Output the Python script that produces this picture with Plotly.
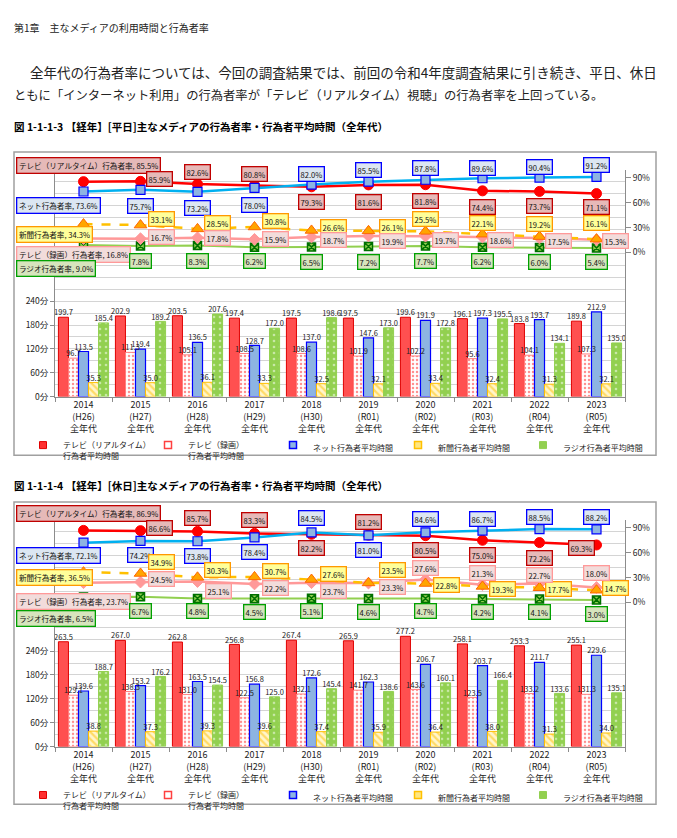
import plotly.graph_objects as go

W, H = 677, 838
FONT = "Noto Sans CJK JP"

# ---------------- data ----------------
years = ["2014", "2015", "2016", "2017", "2018", "2019", "2020", "2021", "2022", "2023"]
eras = ["(H26)", "(H27)", "(H28)", "(H29)", "(H30)", "(R01)", "(R02)", "(R03)", "(R04)", "(R05)"]
age_label = "全年代"

# weekday average time (min)
wd_time_tv_rt = [199.7, 202.9, 203.5, 197.4, 197.5, 197.5, 199.6, 196.1, 183.8, 189.8]
wd_time_tv_rec = [96.7, 111.3, 105.1, 108.5, 108.6, 101.9, 102.2, 95.6, 104.1, 107.3]
wd_time_net = [113.5, 119.4, 136.5, 128.7, 137.0, 147.6, 191.9, 197.3, 193.7, 212.9]
wd_time_news = [35.3, 35.0, 36.1, 33.3, 32.5, 32.1, 33.4, 32.4, 31.3, 32.1]
wd_time_radio = [185.4, 189.2, 207.6, 172.0, 198.6, 173.0, 172.8, 195.5, 134.1, 135.0]
# weekday rates (%)
wd_rate_tv_rt = [85.5, 85.9, 82.6, 80.8, 79.3, 81.6, 81.8, 74.4, 73.7, 71.1]
wd_rate_net = [73.6, 75.7, 73.2, 78.0, 82.0, 85.5, 87.8, 89.6, 90.4, 91.2]
wd_rate_news = [34.3, 33.1, 28.5, 30.8, 26.6, 26.1, 25.5, 22.1, 19.2, 16.1]
wd_rate_tv_rec = [16.8, 16.7, 17.8, 15.9, 18.7, 19.9, 19.7, 18.6, 17.5, 15.3]
wd_rate_radio = [9.0, 7.8, 8.3, 6.2, 6.5, 7.2, 7.7, 6.2, 6.0, 5.4]

# holiday average time (min)
hd_time_tv_rt = [263.5, 267.0, 262.8, 256.8, 267.4, 265.9, 277.2, 258.1, 253.3, 255.1]
hd_time_tv_rec = [129.1, 138.3, 131.0, 122.5, 132.1, 141.7, 143.6, 123.5, 133.2, 131.3]
hd_time_net = [139.6, 153.2, 163.5, 156.8, 172.6, 162.3, 206.7, 203.7, 211.7, 229.6]
hd_time_news = [38.8, 37.3, 39.3, 39.6, 37.4, 35.9, 36.4, 38.0, 31.3, 34.0]
hd_time_radio = [188.7, 176.2, 154.5, 125.0, 145.4, 138.6, 160.1, 166.4, 133.6, 135.1]
# holiday rates (%)
hd_rate_tv_rt = [86.9, 86.6, 85.7, 83.3, 82.2, 81.2, 80.5, 75.0, 72.2, 69.3]
hd_rate_net = [72.1, 74.2, 73.8, 78.4, 84.5, 81.0, 84.6, 86.7, 88.5, 88.2]
hd_rate_news = [36.5, 34.9, 30.3, 30.7, 27.6, 23.5, 22.8, 19.3, 17.7, 14.7]
hd_rate_tv_rec = [23.7, 24.5, 25.1, 22.2, 23.7, 23.3, 27.6, 21.3, 22.7, 18.0]
hd_rate_radio = [6.5, 6.7, 4.8, 4.5, 5.1, 4.6, 4.7, 4.2, 4.1, 3.0]

minute_ticks = [0, 60, 120, 180, 240]
percent_ticks = [0, 30, 60, 90]

time_names = {
    "tv_rt": "テレビ（リアルタイム）<br>行為者平均時間",
    "tv_rec": "テレビ（録画）<br>行為者平均時間",
    "net": "ネット行為者平均時間",
    "news": "新聞行為者平均時間",
    "radio": "ラジオ行為者平均時間",
}
rate_names = {
    "tv_rt": "テレビ（リアルタイム）行為者率",
    "net": "ネット行為者率",
    "news": "新聞行為者率",
    "tv_rec": "テレビ（録画）行為者率",
    "radio": "ラジオ行為者率",
}

# ---------------- styles / layout helpers ----------------
def fx(px):
    return px / W

def fy(py):
    return 1 - py / H

BAR_KEYS = ["tv_rt", "tv_rec", "net", "news", "radio"]
BARGAP = 0.12
bar_styles = {
    "tv_rt": dict(color="#ff5050", line=dict(color="#e00000", width=1)),
    "tv_rec": dict(color="white", line=dict(color="#ff8080", width=1),
                   pattern=dict(shape=".", fgcolor="#ff2020", bgcolor="white", size=4, solidity=0.3)),
    "net": dict(color="#8db4e2", line=dict(color="#0000ff", width=1.2)),
    "news": dict(color="#ffd966", line=dict(color="#ffc000", width=1),
                 pattern=dict(shape="\\", fgcolor="#ffc000", bgcolor="#fff5cc", size=5, solidity=0.45)),
    "radio": dict(color="#92d050", line=dict(color="#92d050", width=1),
                  pattern=dict(shape=".", fgcolor="white", bgcolor="#92d050", size=6, solidity=0.15)),
}
legend_markers = {
    "tv_rt": dict(color="#ff3030", line=dict(color="#e00000", width=1)),
    "tv_rec": dict(color="white", line=dict(color="#ff4040", width=1.5)),
    "net": dict(color="#8db4e2", line=dict(color="#0000ff", width=1.5)),
    "news": dict(color="#ffe680", line=dict(color="#ffc000", width=1.5)),
    "radio": dict(color="#92d050", line=dict(color="#92d050", width=1)),
}
line_styles = {
    "radio": dict(line=dict(color="#92d050", width=2),
                  marker=dict(symbol="square-x", size=8, color="#92d050", line=dict(color="#007000", width=1.5))),
    "tv_rec": dict(line=dict(color="#ff9999", width=2.5),
                   marker=dict(symbol="diamond", size=9, color="#ff9999", line=dict(color="#ff9999", width=1))),
    "news": dict(line=dict(color="#ffc000", width=2.5, dash="dash"),
                 marker=dict(symbol="triangle-up", size=11, color="#ffa500", line=dict(color="#ff6600", width=1))),
    "tv_rt": dict(line=dict(color="#ff0000", width=2.5),
                  marker=dict(symbol="circle", size=10, color="#ff0000", line=dict(color="#ff0000", width=1))),
    "net": dict(line=dict(color="#00b0f0", width=2.5),
                marker=dict(symbol="square", size=9, color="#8db4e2", line=dict(color="#0000ff", width=1.2))),
}
label_box = {
    "tv_rt": ("#e6b9b8", "#c00000"),
    "net": ("#dce6f2", "#0000ff"),
    "news": ("#ffff99", "#ff9900"),
    "tv_rec": ("#f2dcdb", "#ff9999"),
    "radio": ("#d7e4bd", "#00a000"),
}
FIRST = -68  # left edge shift for the first (named) label

wd_offsets = {
    "tv_rt": [(FIRST, 16), (19, 2), (0, 12), (0, 12), (0, -15), (0, -17), (0, -16), (0, -16), (0, -15), (0, -13)],
    "net": [(FIRST, -14), (0, -16), (0, -16), (0, -17), (0, 11), (0, 12), (0, 12), (0, 10), (0, 11), (0, 12)],
    "news": [(FIRST, -10), (21, 6), (20, 6), (21, 6), (22, 3), (24, 4), (0, 12), (0, 11), (0, 13), (0, 16)],
    "tv_rec": [(FIRST, -16), (21, 2), (20, 0), (21, 0), (22, -3), (24, -5), (20, -4), (18, -3), (19, -3), (19, -1)],
    "radio": [(FIRST, -23), (0, -15), (0, -15), (0, -14), (0, -15), (0, -15), (0, -15), (0, -14), (0, -14), (0, -14)],
}
hd_offsets = {
    "tv_rt": [(FIRST, 17), (19, 3), (0, 13), (0, 13), (0, -14), (0, 13), (0, -14), (0, -15), (0, -15), (-15, -3)],
    "net": [(FIRST, -13), (0, -14), (0, -15), (0, -15), (0, 14), (0, -15), (0, 13), (0, 12), (0, 12), (0, 12)],
    "news": [(FIRST, -5), (21, 11), (20, 7), (21, 6), (22, 6), (24, 13), (21, -2), (20, -3), (19, -1), (19, 2)],
    "tv_rec": [(FIRST, -19), (21, 3), (21, -9), (21, -4), (22, -8), (24, -4), (0, 12), (0, 12), (0, 9), (0, 14)],
    "radio": [(FIRST, -22), (0, -14), (0, -13), (0, -13), (0, -13), (0, -13), (0, -13), (0, -13), (0, -13), (0, -14)],
}

weekday = dict(
    times={"tv_rt": wd_time_tv_rt, "tv_rec": wd_time_tv_rec, "net": wd_time_net,
           "news": wd_time_news, "radio": wd_time_radio},
    rates={"tv_rt": wd_rate_tv_rt, "net": wd_rate_net, "news": wd_rate_news,
           "tv_rec": wd_rate_tv_rec, "radio": wd_rate_radio},
    offsets=wd_offsets,
)
holiday = dict(
    times={"tv_rt": hd_time_tv_rt, "tv_rec": hd_time_tv_rec, "net": hd_time_net,
           "news": hd_time_news, "radio": hd_time_radio},
    rates={"tv_rt": hd_rate_tv_rt, "net": hd_rate_net, "news": hd_rate_news,
           "tv_rec": hd_rate_tv_rec, "radio": hd_rate_radio},
    offsets=hd_offsets,
)

fig = go.Figure()
annotations = []
shapes = []
xs = list(range(len(years)))
ticktext = [f"{y}<br>{e}<br>{age_label}" for y, e in zip(years, eras)]
bar_w = (1 - BARGAP) / len(BAR_KEYS)

def add_chart(data, xa, ya, ya2, legend_name):
    # bars
    for key in BAR_KEYS:
        vals = data["times"][key]
        fig.add_trace(go.Bar(
            x=xs, y=vals, name=time_names[key], xaxis=xa, yaxis=ya,
            marker=bar_styles[key], showlegend=False, hoverinfo="skip"))
    # bar value labels (drawn above all bars)
    for k, key in enumerate(BAR_KEYS):
        vals = data["times"][key]
        off = (k - (len(BAR_KEYS) - 1) / 2) * bar_w
        fig.add_trace(go.Scatter(
            x=[x + off for x in xs], y=vals, mode="text", text=[f"{v:.1f}" for v in vals],
            textposition="top center", textfont=dict(size=7.5, color="#222", family=FONT),
            xaxis=xa, yaxis=ya, showlegend=False, cliponaxis=False, hoverinfo="skip"))
    # legend entries
    for key in BAR_KEYS:
        fig.add_trace(go.Scatter(
            x=[None], y=[None], mode="markers", name=time_names[key], xaxis=xa, yaxis=ya,
            marker=dict(symbol="square", size=7, **legend_markers[key]), legend=legend_name,
            hoverinfo="skip"))
    # rate lines
    for key in ["radio", "tv_rec", "news", "tv_rt", "net"]:
        vals = data["rates"][key]
        st = line_styles[key]
        fig.add_trace(go.Scatter(
            x=xs, y=vals, mode="lines+markers", xaxis=xa, yaxis=ya2,
            line=st["line"], marker=st["marker"], showlegend=False, cliponaxis=False,
            hoverinfo="skip"))
    for key in ["tv_rt", "net", "news", "tv_rec", "radio"]:
        vals = data["rates"][key]
        bg, bc = label_box[key]
        for i, v in enumerate(vals):
            dx, dy = data["offsets"][key][i]
            first = i == 0
            annotations.append(dict(
                x=xs[i], y=v, xref=xa, yref=ya2, xshift=dx, yshift=dy,
                text=(f"{rate_names[key]}, {v:.1f}%" if first else f"{v:.1f}%"),
                xanchor="left" if first else "center", yanchor="middle",
                showarrow=False, font=dict(size=7.6, color="#111", family=FONT),
                bgcolor=bg, bordercolor=bc, borderwidth=1.3, borderpad=1.2 if not first else 1.6))

add_chart(weekday, "x", "y", "y2", "legend")
add_chart(holiday, "x2", "y3", "y4", "legend2")

# ---------------- axes ----------------
XDOM = [fx(55), fx(625)]
PLOT_H = 228
dom1 = [fy(399), fy(399 - PLOT_H)]
dom2 = [fy(751), fy(751 - PLOT_H)]
MIN_RANGE = [0, 570]
PCT_RANGE = [-174, 99.6]
GRID = "#d4d4d4"
AX = "#8c8c8c"

def xaxis_cfg(anchor):
    return dict(domain=XDOM, range=[-0.5, len(years) - 0.5], anchor=anchor,
                tickmode="array", tickvals=xs, ticktext=ticktext, ticks="",
                tickfont=dict(size=9, color="#222", family=FONT),
                showline=True, linecolor=AX, linewidth=1, showgrid=False, zeroline=False,
                minor=dict(tickmode="array", tickvals=[i - 0.5 for i in range(len(years) + 1)],
                           ticks="outside", ticklen=4, tickcolor=AX),
                fixedrange=True)

def ymin_cfg(dom, anchor):
    return dict(domain=dom, range=MIN_RANGE, anchor=anchor,
                tickmode="array", tickvals=minute_ticks, ticktext=[f"{t}分" for t in minute_ticks],
                tickfont=dict(size=8.5, color="#222", family=FONT),
                ticks="outside", ticklen=4, tickcolor=AX,
                showgrid=True, gridcolor=GRID, gridwidth=1,
                minor=dict(tickmode="array", tickvals=list(range(0, 571, 30)), showgrid=True,
                           gridcolor=GRID, gridwidth=1),
                showline=True, linecolor=AX, linewidth=1, zeroline=False, fixedrange=True)

def ypct_cfg(overlay, anchor):
    return dict(overlaying=overlay, side="right", anchor=anchor, range=PCT_RANGE,
                tickmode="array", tickvals=percent_ticks, ticktext=[f"{t}%" for t in percent_ticks],
                tickfont=dict(size=8.5, color="#222", family=FONT),
                ticks="outside", ticklen=5, tickcolor=AX,
                showgrid=False, showline=True, linecolor=AX, linewidth=1, zeroline=False,
                fixedrange=True)

# ---------------- frames & text ----------------
for top, bot in [(153, 458), (505, 809)]:
    shapes.append(dict(type="rect", xref="paper", yref="paper", x0=fx(14), x1=fx(656),
                       y0=fy(bot), y1=fy(top), line=dict(color="#a0a0a0", width=1.5),
                       fillcolor="rgba(0,0,0,0)", layer="below"))

def text(x, y, s, size, bold=False, color="#222"):
    annotations.append(dict(x=fx(x), y=fy(y), xref="paper", yref="paper", text=(f"<b>{s}</b>" if bold else s),
                            showarrow=False, xanchor="left", yanchor="middle",
                            font=dict(size=size, color=color, family=FONT)))

text(12, 28, "第1章　主なメディアの利用時間と行為者率", 10)
text(28, 72, "全年代の行為者率については、今回の調査結果では、前回の令和4年度調査結果に引き続き、平日、休日", 13.5)
text(12, 96, "ともに「インターネット利用」の行為者率が「テレビ（リアルタイム）視聴」の行為者率を上回っている。", 12.3)
text(12, 127, "図 1-1-1-3 【経年】[平日]主なメディアの行為者率・行為者平均時間（全年代）", 10.5, bold=True, color="#000")
text(12, 488, "図 1-1-1-4 【経年】[休日]主なメディアの行為者率・行為者平均時間（全年代）", 10.5, bold=True, color="#000")

legend_common = dict(orientation="h", xanchor="left", yanchor="top", entrywidth=80,
                     entrywidthmode="pixels", itemwidth=30, bgcolor="rgba(0,0,0,0)",
                     font=dict(size=8, color="#222", family=FONT), traceorder="normal",
                     valign="top", tracegroupgap=0)

fig.update_layout(
    width=W, height=H, autosize=False,
    margin=dict(l=0, r=0, t=0, b=0),
    paper_bgcolor="white", plot_bgcolor="white",
    font=dict(family=FONT, color="#222"),
    barmode="group", bargap=BARGAP, bargroupgap=0,
    xaxis=xaxis_cfg("y"), yaxis=ymin_cfg(dom1, "x"), yaxis2=ypct_cfg("y", "x"),
    xaxis2=xaxis_cfg("y3"), yaxis3=ymin_cfg(dom2, "x2"), yaxis4=ypct_cfg("y3", "x2"),
    legend=dict(x=fx(23), y=fy(436), **legend_common),
    legend2=dict(x=fx(23), y=fy(788), **legend_common),
    annotations=annotations, shapes=shapes,
)

fig.write_html("out.html")
